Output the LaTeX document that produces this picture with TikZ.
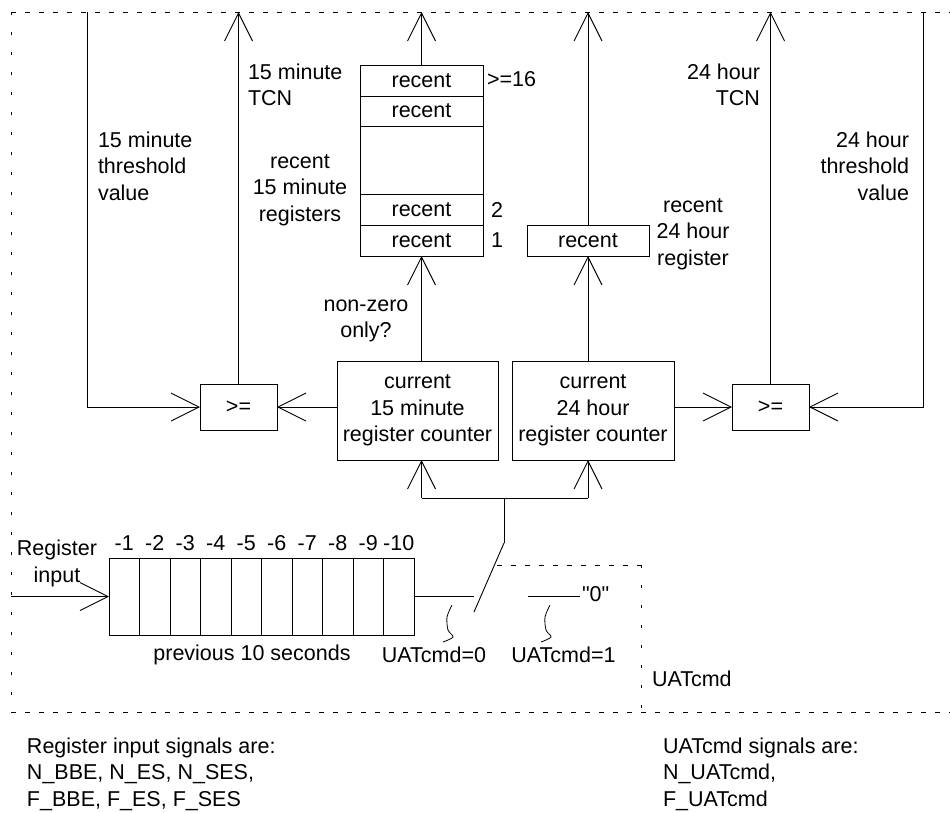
\documentclass[tikz,border=0pt]{standalone}
\usepackage{fontspec}
\setmainfont{Liberation Sans}
\newfontfamily\rawsans[Ligatures=ResetAll]{Liberation Sans}
\usetikzlibrary{arrows.meta}
\begin{document}
\begin{tikzpicture}[x=1pt,y=-1pt,
  every node/.style={font=\fontsize{21.5}{26.5}\selectfont, inner sep=0pt, outer sep=0pt},
  box/.style={draw, line width=0.9pt, rectangle},
  wire/.style={line width=0.9pt},
  arr/.style={wire, -{Straight Barb[length=28pt,width=28pt]}},
  hdash/.style={line width=0.9pt, dash pattern=on 5pt off 9pt},
  vdash/.style={line width=0.9pt, dash pattern=on 3pt off 17pt},
  squig/.style={line width=0.8pt}
]
\useasboundingbox (0,0) rectangle (950,812);

% dashed frames
\coordinate (tl) at (11,12);
\coordinate (tr) at (950,12);
\coordinate (bl) at (11,712);
\coordinate (br) at (950,712);
\draw[hdash] (tl) -- (tr);
\draw[hdash] (bl) -- (br);
\draw[vdash] (tl) -- (bl);
\coordinate (utl) at (497,565);
\coordinate (utr) at (641,565);
\coordinate (ubr) at (641,712);
\draw[hdash] (utl) -- (utr);
\draw[vdash] (utr) -- (ubr);

% comparators and counters
\node[box, minimum width=77pt, minimum height=46pt] (ge15) at (238.5,407) {>=};
\node[box, minimum width=77pt, minimum height=46pt] (ge24) at (770.5,407) {>=};
\node[box, minimum width=161pt, minimum height=99pt, align=center] (cur15) at (417.5,410.5) {current\\15 minute\\register counter};
\node[box, minimum width=162pt, minimum height=99pt, align=center] (cur24) at (593,410.5) {current\\24 hour\\register counter};

% 15 minute register stack
\node[box, minimum width=123pt, minimum height=31pt] (s4) at (421.5,80.5) {recent};
\node[box, minimum width=123pt, minimum height=30pt] (s3) at (421.5,111) {recent};
\node[box, minimum width=123pt, minimum height=68pt] (sgap) at (421.5,160) {};
\node[box, minimum width=123pt, minimum height=31pt] (s2) at (421.5,209.5) {recent};
\node[box, minimum width=123pt, minimum height=31pt] (s1) at (421.5,240.5) {recent};
\node[anchor=west] (n16) at (487,79) {>=16};
\node[anchor=west] (n2) at (491,209.5) {2};
\node[anchor=west] (n1) at (491,240.5) {1};

% 24 hour register
\node[box, minimum width=122pt, minimum height=31pt] (r24) at (588,240.5) {recent};

% labels
\node[anchor=west, align=left] (t15tcn) at (248,85) {15 minute\\TCN};
\node[anchor=west, align=left] (t15thr) at (98,166) {15 minute\\threshold\\value};
\node[align=center] (trec15) at (300,190) {recent\\15 minute\\registers};
\node[anchor=east, align=right] (t24tcn) at (760,85) {24 hour\\TCN};
\node[anchor=east, align=right] (t24thr) at (909,166) {24 hour\\threshold\\value};
\node[align=center] (trec24) at (693,234) {recent\\24 hour\\register};
\node[align=center] (tnz) at (366,321) {non-zero\\only?};

% outputs upward
\coordinate (top) at (0,12);
\draw[arr] (s4.north) -- (s4.north |- top);
\draw[arr] (r24.north) -- (r24.north |- top);
\draw[arr] (ge15.north) -- (ge15.north |- top);
\draw[arr] (ge24.north) -- (ge24.north |- top);

% thresholds
\coordinate (thr15) at (87,12);
\coordinate (thr24) at (923,12);
\draw[arr] (thr15) |- (ge15.west);
\draw[arr] (thr24) |- (ge24.east);

% counters to comparators / registers
\draw[arr] (cur15.west |- ge15.east) -- (ge15.east);
\draw[arr] (cur24.east |- ge24.west) -- (ge24.west);
\draw[arr] (s1.south |- cur15.north) -- (s1.south);
\draw[arr] (r24.south |- cur24.north) -- (r24.south);

% fork and switch
\coordinate (pivot) at (504,543);
\coordinate (fork) at (504,498);
\draw[wire] (pivot) -- (fork);
\draw[wire] (s1.south |- fork) -- (r24.south |- fork);
\draw[arr] (s1.south |- fork) -- (s1.south |- cur15.south);
\draw[arr] (r24.south |- fork) -- (r24.south |- cur24.south);
\coordinate (blade) at (474,612);
\draw[wire] (pivot) -- (blade);

% shift register
\foreach \i in {1,...,10} {
  \node[box, minimum width=30.5pt, minimum height=77pt] (c\i) at ({109+30.5*(\i-0.5)},596.5) {};
  \node (l\i) at ({109+30.5*(\i-0.5)},543) {-\i};
}
\node[align=center] (tin) at (57,563.5) {Register\\input};
\coordinate (inp) at (11,596.5);
\draw[arr] (inp) -- (c1.west);
\coordinate (c0) at (474,596.5);
\draw[wire] (c10.east) -- (c0);
\node[anchor=west] (zero) at (582,594) {\rawsans "0"};
\coordinate (z0) at (528,596.5);
\draw[wire] (z0) -- ([xshift=-2pt]zero.west |- z0);

\node (prev) at (252,655) {previous 10 seconds};
\node (u0) at (434,655) {UATcmd=0};
\node (u1) at (563.5,655) {UATcmd=1};
\node[anchor=west] (ucmd) at (652,679) {UATcmd};
\draw[squig] plot[smooth] coordinates {(452,605) (447,617) (448,630) (453,637) (443,642)};
\draw[squig] plot[smooth] coordinates {(550,605) (545,617) (546,630) (551,637) (541,642)};

% notes
\node[anchor=west, align=left] (sigL) at (27,774) {Register input signals are:\\N\_BBE, N\_ES, N\_SES,\\F\_BBE, F\_ES, F\_SES};
\node[anchor=west, align=left] (sigR) at (663,774) {UATcmd signals are:\\N\_UATcmd,\\F\_UATcmd};
\end{tikzpicture}
\end{document}
